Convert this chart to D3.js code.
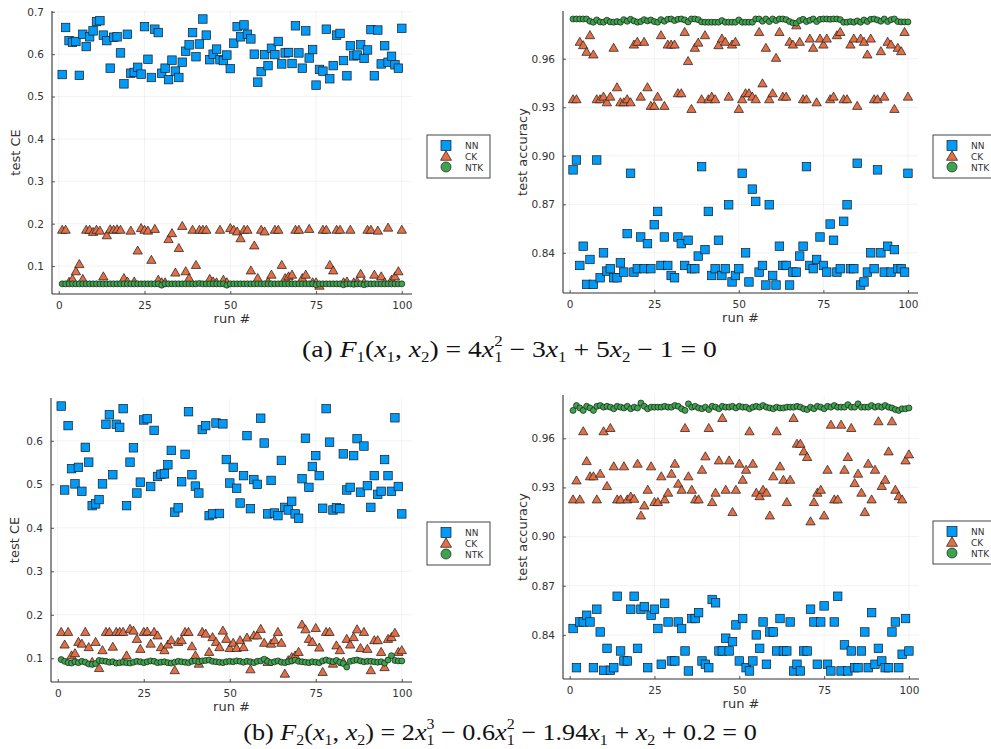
<!DOCTYPE html>
<html>
<head>
<meta charset="utf-8">
<script src="https://cdn.jsdelivr.net/npm/d3@7/dist/d3.min.js"></script>
<style>
  body { margin: 0; background: #fff; }
  svg { display: block; }
</style>
</head>
<body>
<svg id="chart" width="991" height="749"></svg>
<script>
// run numbers 1..100
var runs = d3.range(1, 101);
var seriesNames = ["NN", "CK", "NTK"];
var xTicks = [0, 25, 50, 75, 100];

// (a) test CE
var ceNN1 = [0.552,0.663,0.632,0.628,0.630,0.550,0.647,0.618,0.641,0.655,
  0.677,0.679,0.645,0.632,0.567,0.640,0.641,0.603,0.530,0.647,
  0.555,0.557,0.569,0.553,0.665,0.588,0.545,0.659,0.651,0.555,
  0.567,0.540,0.586,0.560,0.545,0.581,0.607,0.622,0.651,0.594,
  0.624,0.683,0.645,0.587,0.600,0.612,0.587,0.585,0.598,0.566,
  0.626,0.665,0.641,0.669,0.647,0.636,0.600,0.534,0.559,0.599,
  0.573,0.614,0.599,0.630,0.577,0.603,0.604,0.578,0.667,0.603,
  0.567,0.655,0.591,0.611,0.527,0.564,0.560,0.659,0.542,0.573,
  0.645,0.649,0.585,0.549,0.620,0.596,0.598,0.622,0.590,0.610,
  0.658,0.549,0.657,0.577,0.620,0.581,0.595,0.575,0.567,0.661];
var ceCK1 = [0.185,0.185,0.062,0.069,0.087,0.104,0.069,0.185,0.185,0.180,
  0.185,0.183,0.075,0.172,0.186,0.185,0.186,0.185,0.071,0.063,
  0.183,0.063,0.136,0.189,0.185,0.183,0.114,0.187,0.067,0.061,
  0.061,0.163,0.177,0.084,0.142,0.194,0.087,0.071,0.185,0.102,
  0.185,0.185,0.185,0.069,0.063,0.061,0.185,0.067,0.061,0.189,
  0.185,0.181,0.165,0.185,0.185,0.089,0.148,0.071,0.185,0.181,
  0.063,0.079,0.185,0.185,0.102,0.071,0.075,0.079,0.185,0.185,
  0.071,0.079,0.187,0.061,0.061,0.053,0.185,0.185,0.102,0.089,
  0.185,0.185,0.061,0.063,0.185,0.061,0.063,0.081,0.061,0.185,
  0.185,0.079,0.183,0.075,0.061,0.190,0.067,0.075,0.087,0.185];
var ceNTK1 = [0.058,0.058,0.058,0.058,0.058,0.058,0.058,0.058,0.058,0.058,
  0.058,0.058,0.058,0.058,0.058,0.058,0.058,0.058,0.058,0.058,
  0.058,0.058,0.058,0.058,0.058,0.058,0.058,0.058,0.058,0.055,
  0.058,0.058,0.058,0.058,0.058,0.058,0.058,0.058,0.058,0.058,
  0.059,0.058,0.058,0.058,0.058,0.058,0.058,0.058,0.055,0.058,
  0.058,0.058,0.058,0.058,0.058,0.058,0.058,0.058,0.058,0.058,
  0.058,0.058,0.058,0.058,0.058,0.058,0.058,0.058,0.058,0.058,
  0.058,0.058,0.058,0.058,0.056,0.058,0.058,0.058,0.058,0.058,
  0.058,0.058,0.056,0.058,0.058,0.057,0.058,0.058,0.056,0.058,
  0.058,0.058,0.058,0.058,0.058,0.058,0.058,0.058,0.058,0.058];

// (a) test accuracy
var accNN1 = [0.8913,0.8974,0.8322,0.8441,0.8205,0.8359,0.8205,0.8974,0.8246,0.8400,
  0.8287,0.8302,0.8246,0.8246,0.8338,0.8281,0.8519,0.8892,0.8281,0.8302,
  0.8498,0.8302,0.8457,0.8302,0.8574,0.8656,0.8322,0.8498,0.8322,0.8260,
  0.8246,0.8498,0.8457,0.8322,0.8478,0.8302,0.8302,0.8380,0.8933,0.8420,
  0.8656,0.8260,0.8302,0.8478,0.8260,0.8302,0.8697,0.8220,0.8260,0.8302,
  0.8892,0.8400,0.8220,0.8794,0.8718,0.8281,0.8322,0.8201,0.8697,0.8260,
  0.8201,0.8441,0.8322,0.8322,0.8201,0.8281,0.8281,0.8380,0.8441,0.8933,
  0.8322,0.8302,0.8359,0.8498,0.8322,0.8281,0.8578,0.8478,0.8281,0.8302,
  0.8595,0.8697,0.8302,0.8302,0.8954,0.8201,0.8220,0.8281,0.8400,0.8302,
  0.8913,0.8400,0.8281,0.8441,0.8281,0.8420,0.8302,0.8302,0.8281,0.8892];
var accCK1 = [0.9348,0.9348,0.9703,0.9682,0.9641,0.9744,0.9625,0.9348,0.9348,0.9364,
  0.9329,0.9364,0.9666,0.9422,0.9329,0.9329,0.9348,0.9329,0.9686,0.9703,
  0.9364,0.9703,0.9422,0.9307,0.9307,0.9364,0.9744,0.9307,0.9686,0.9686,
  0.9686,0.9385,0.9385,0.9764,0.9584,0.9288,0.9666,0.9698,0.9348,0.9744,
  0.9348,0.9364,0.9348,0.9682,0.9723,0.9703,0.9364,0.9686,0.9703,0.9288,
  0.9348,0.9385,0.9385,0.9364,0.9348,0.9764,0.9446,0.9666,0.9348,0.9385,
  0.9604,0.9764,0.9364,0.9364,0.9703,0.9686,0.9805,0.9703,0.9348,0.9348,
  0.9723,0.9666,0.9329,0.9723,0.9686,0.9723,0.9348,0.9364,0.9744,0.9764,
  0.9348,0.9348,0.9686,0.9723,0.9307,0.9723,0.9703,0.9625,0.9723,0.9348,
  0.9348,0.9645,0.9364,0.9703,0.9686,0.9288,0.9666,0.9645,0.9764,0.9364];
var accNTK1 = [0.9846,0.9846,0.9846,0.9846,0.9846,0.9832,0.9826,0.9840,0.9828,0.9826,
  0.9838,0.9828,0.9826,0.9830,0.9826,0.9842,0.9832,0.9844,0.9834,0.9826,
  0.9830,0.9842,0.9834,0.9840,0.9830,0.9826,0.9842,0.9832,0.9844,0.9846,
  0.9836,0.9844,0.9846,0.9840,0.9828,0.9846,0.9846,0.9842,0.9828,0.9826,
  0.9826,0.9826,0.9826,0.9826,0.9836,0.9826,0.9826,0.9826,0.9826,0.9840,
  0.9826,0.9826,0.9826,0.9826,0.9846,0.9846,0.9832,0.9846,0.9830,0.9846,
  0.9836,0.9846,0.9846,0.9842,0.9830,0.9822,0.9820,0.9836,0.9844,0.9830,
  0.9838,0.9846,0.9830,0.9844,0.9846,0.9846,0.9844,0.9846,0.9846,0.9842,
  0.9826,0.9826,0.9830,0.9826,0.9834,0.9826,0.9840,0.9830,0.9844,0.9846,
  0.9840,0.9832,0.9846,0.9830,0.9842,0.9846,0.9830,0.9828,0.9828,0.9828];

// (b) test CE
var ceNN2 = [0.680,0.487,0.635,0.536,0.501,0.539,0.484,0.585,0.551,0.451,
  0.455,0.465,0.501,0.638,0.660,0.522,0.638,0.631,0.674,0.451,
  0.551,0.584,0.480,0.505,0.648,0.651,0.495,0.624,0.518,0.523,
  0.524,0.545,0.578,0.436,0.446,0.506,0.569,0.667,0.522,0.496,
  0.480,0.626,0.635,0.428,0.432,0.641,0.433,0.639,0.557,0.503,
  0.539,0.491,0.457,0.520,0.612,0.444,0.511,0.500,0.652,0.595,
  0.432,0.509,0.434,0.428,0.555,0.447,0.441,0.461,0.432,0.422,
  0.513,0.606,0.493,0.541,0.566,0.520,0.445,0.674,0.597,0.441,
  0.446,0.444,0.570,0.487,0.493,0.566,0.605,0.482,0.588,0.497,
  0.447,0.520,0.477,0.484,0.557,0.520,0.484,0.653,0.495,0.432];
var ceCK2 = [0.160,0.131,0.160,0.106,0.111,0.137,0.133,0.160,0.125,0.091,
  0.137,0.077,0.118,0.160,0.160,0.126,0.160,0.160,0.160,0.106,
  0.167,0.163,0.144,0.121,0.160,0.161,0.133,0.160,0.152,0.125,
  0.118,0.131,0.141,0.072,0.137,0.141,0.160,0.160,0.127,0.106,
  0.087,0.160,0.156,0.114,0.148,0.137,0.125,0.163,0.144,0.123,
  0.135,0.123,0.141,0.125,0.147,0.074,0.152,0.152,0.167,0.135,
  0.091,0.133,0.141,0.160,0.135,0.064,0.095,0.102,0.106,0.114,
  0.177,0.166,0.144,0.137,0.169,0.124,0.068,0.160,0.160,0.087,
  0.129,0.118,0.091,0.144,0.131,0.148,0.166,0.123,0.160,0.121,
  0.072,0.141,0.141,0.114,0.079,0.144,0.148,0.158,0.114,0.118];
var ceNTK2 = [0.097,0.093,0.090,0.089,0.092,0.090,0.093,0.091,0.087,0.086,
  0.088,0.095,0.094,0.093,0.091,0.092,0.089,0.090,0.091,0.090,
  0.089,0.091,0.093,0.092,0.090,0.092,0.094,0.093,0.090,0.091,
  0.092,0.090,0.089,0.091,0.093,0.092,0.091,0.090,0.093,0.094,
  0.092,0.094,0.095,0.096,0.093,0.092,0.091,0.090,0.092,0.093,
  0.092,0.094,0.093,0.091,0.093,0.092,0.090,0.093,0.094,0.098,
  0.093,0.090,0.092,0.094,0.091,0.090,0.092,0.094,0.096,0.093,
  0.092,0.091,0.090,0.092,0.091,0.090,0.094,0.096,0.094,0.092,
  0.095,0.091,0.088,0.080,0.093,0.095,0.096,0.094,0.092,0.093,
  0.093,0.092,0.091,0.092,0.089,0.096,0.106,0.095,0.094,0.094];

// (b) test accuracy
var accNN2 = [0.8439,0.8200,0.8479,0.8479,0.8520,0.8479,0.8200,0.8557,0.8418,0.8184,
  0.8318,0.8184,0.8200,0.8636,0.8302,0.8241,0.8241,0.8557,0.8636,0.8318,
  0.8557,0.8573,0.8200,0.8520,0.8557,0.8439,0.8221,0.8593,0.8479,0.8241,
  0.8241,0.8479,0.8439,0.8302,0.8180,0.8500,0.8500,0.8536,0.8241,0.8221,
  0.8200,0.8616,0.8596,0.8302,0.8302,0.8380,0.8302,0.8359,0.8461,0.8241,
  0.8500,0.8200,0.8180,0.8241,0.8400,0.8318,0.8479,0.8221,0.8418,0.8418,
  0.8302,0.8500,0.8302,0.8302,0.8479,0.8180,0.8221,0.8180,0.8302,0.8302,
  0.8557,0.8479,0.8221,0.8479,0.8577,0.8221,0.8180,0.8479,0.8636,0.8180,
  0.8339,0.8180,0.8302,0.8200,0.8200,0.8302,0.8418,0.8200,0.8536,0.8221,
  0.8318,0.8241,0.8200,0.8200,0.8418,0.8479,0.8200,0.8282,0.8500,0.8302];
var accCK2 = [0.9225,0.9341,0.9225,0.9641,0.9459,0.9366,0.9366,0.9225,0.9382,0.9641,
  0.9307,0.9661,0.9427,0.9225,0.9225,0.9427,0.9225,0.9243,0.9229,0.9443,
  0.9127,0.9188,0.9284,0.9427,0.9209,0.9209,0.9366,0.9225,0.9266,0.9382,
  0.9443,0.9321,0.9284,0.9661,0.9366,0.9284,0.9225,0.9225,0.9406,0.9488,
  0.9661,0.9209,0.9266,0.9463,0.9722,0.9284,0.9463,0.9148,0.9284,0.9443,
  0.9345,0.9406,0.9641,0.9443,0.9266,0.9245,0.9284,0.9266,0.9127,0.9366,
  0.9641,0.9427,0.9345,0.9209,0.9345,0.9722,0.9565,0.9565,0.9518,0.9484,
  0.9091,0.9209,0.9266,0.9284,0.9127,0.9406,0.9681,0.9225,0.9225,0.9681,
  0.9406,0.9484,0.9661,0.9325,0.9382,0.9266,0.9148,0.9443,0.9225,0.9406,
  0.9702,0.9307,0.9345,0.9518,0.9702,0.9284,0.9245,0.9225,0.9463,0.9500];
var accNTK2 = [0.9770,0.9800,0.9785,0.9770,0.9795,0.9785,0.9770,0.9795,0.9800,0.9790,
  0.9795,0.9790,0.9780,0.9795,0.9790,0.9785,0.9795,0.9780,0.9790,0.9785,
  0.9815,0.9795,0.9780,0.9790,0.9790,0.9790,0.9790,0.9795,0.9790,0.9790,
  0.9800,0.9795,0.9780,0.9770,0.9810,0.9790,0.9795,0.9785,0.9780,0.9790,
  0.9775,0.9795,0.9790,0.9780,0.9795,0.9790,0.9790,0.9795,0.9785,0.9795,
  0.9790,0.9790,0.9780,0.9790,0.9795,0.9790,0.9800,0.9790,0.9785,0.9780,
  0.9790,0.9785,0.9785,0.9790,0.9790,0.9790,0.9795,0.9790,0.9780,0.9775,
  0.9790,0.9780,0.9795,0.9790,0.9780,0.9795,0.9790,0.9800,0.9790,0.9790,
  0.9790,0.9805,0.9790,0.9790,0.9810,0.9790,0.9790,0.9790,0.9800,0.9790,
  0.9795,0.9790,0.9800,0.9790,0.9785,0.9775,0.9770,0.9780,0.9780,0.9785];

var ceTicks = [0.1, 0.2, 0.3, 0.4, 0.5, 0.6, 0.7];
var accTicks = [0.84, 0.87, 0.90, 0.93, 0.96];

var COLORS = { NN: "#009af9", CK: "#e26f46", NTK: "#3da44d" };
var FONT = "DejaVu Sans, Liberation Sans, sans-serif";

var svg = d3.select("#chart");

// plot boxes: [left, top, right, bottom]
var panels = [
  { box: [52, 11, 412, 294], ylabel: "test CE", ticks: ceTicks, fmt: ".1f",
    data: [ceNN1, ceCK1, ceNTK1], legend: [427, 135] },
  { box: [563, 11, 918, 293], ylabel: "test accuracy", ticks: accTicks, fmt: ".2f",
    data: [accNN1, accCK1, accNTK1], legend: [933, 135] },
  { box: [51, 398, 412, 682], ylabel: "test CE", ticks: ceTicks, fmt: ".1f",
    data: [ceNN2, ceCK2, ceNTK2], legend: [427, 522] },
  { box: [563, 395, 919, 679], ylabel: "test accuracy", ticks: accTicks, fmt: ".2f",
    data: [accNN2, accCK2, accNTK2], legend: [933, 521] }
];

function drawMarker(g, kind, size) {
  var m;
  if (kind === "NN") {
    m = g.append("rect").attr("x", -size / 2).attr("y", -size / 2)
      .attr("width", size).attr("height", size);
  } else if (kind === "CK") {
    var h = size * 0.95, w = size * 1.1;
    m = g.append("path")
      .attr("d", "M0," + (-h * 0.6) + "L" + (w / 2) + "," + (h * 0.4) + "L" + (-w / 2) + "," + (h * 0.4) + "Z");
  } else {
    m = g.append("circle").attr("r", size / 2);
  }
  m.attr("fill", COLORS[kind]).attr("stroke", "#1a1a1a").attr("stroke-width", 0.7);
  return m;
}

function drawPanel(p) {
  var L = p.box[0], T = p.box[1], R = p.box[2], B = p.box[3];
  var all = p.data[0].concat(p.data[1], p.data[2]);
  var lo = d3.min(all), hi = d3.max(all), pad = (hi - lo) * 0.03;
  var x = d3.scaleLinear().domain([1 - 99 * 0.03, 100 + 99 * 0.03]).range([L, R]);
  var y = d3.scaleLinear().domain([lo - pad, hi + pad]).range([B, T]);
  var ticksIn = p.ticks.filter(function(t) { return t >= lo - pad && t <= hi + pad; });

  var g = svg.append("g");
  // grid
  g.append("g").selectAll("line").data(xTicks).enter().append("line")
    .attr("x1", function(d) { return x(d); }).attr("x2", function(d) { return x(d); })
    .attr("y1", T).attr("y2", B)
    .attr("stroke", "#000").attr("stroke-opacity", 0.09).attr("stroke-width", 0.6);
  g.append("g").selectAll("line").data(ticksIn).enter().append("line")
    .attr("x1", L).attr("x2", R)
    .attr("y1", function(d) { return y(d); }).attr("y2", function(d) { return y(d); })
    .attr("stroke", "#000").attr("stroke-opacity", 0.09).attr("stroke-width", 0.6);

  // axes
  var xa = g.append("g").attr("transform", "translate(0," + B + ")")
    .call(d3.axisBottom(x).tickValues(xTicks).tickSize(-3).tickPadding(8).tickFormat(d3.format("d")));
  var ya = g.append("g").attr("transform", "translate(" + L + ",0)")
    .call(d3.axisLeft(y).tickValues(ticksIn).tickSize(-3).tickPadding(8).tickFormat(d3.format(p.fmt)));
  [xa, ya].forEach(function(a) {
    a.select(".domain").attr("stroke", "#333").attr("stroke-width", 1.1);
    a.selectAll(".tick line").attr("stroke", "#333").attr("stroke-width", 0.8);
    a.selectAll("text").attr("font-family", FONT).attr("font-size", 10.5).attr("fill", "#333");
  });
  xa.select(".domain").attr("d", "M" + L + ",0H" + R);
  ya.select(".domain").attr("d", "M0," + B + "V" + T);

  // labels
  g.append("text").attr("x", (L + R) / 2).attr("y", B + 29)
    .attr("text-anchor", "middle").attr("font-family", FONT).attr("font-size", 13)
    .attr("fill", "#333").text("run #");
  var lx = p.ylabel === "test CE" ? L - 32 : L - 36;
  g.append("text").attr("transform", "translate(" + (lx) + "," + ((T + B) / 2) + ") rotate(-90)")
    .attr("text-anchor", "middle").attr("font-family", FONT).attr("font-size", 13)
    .attr("fill", "#333").text(p.ylabel);

  // points
  var sizes = { NN: 8.5, CK: 8.5, NTK: 6 };
  seriesNames.forEach(function(name, si) {
    var vals = p.data[si];
    runs.forEach(function(r, i) {
      var mg = g.append("g").attr("transform", "translate(" + x(r) + "," + y(vals[i]) + ")");
      drawMarker(mg, name, sizes[name]);
    });
  });

  // legend
  var lg = svg.append("g").attr("transform", "translate(" + p.legend[0] + "," + p.legend[1] + ")");
  lg.append("rect").attr("width", 63).attr("height", 43)
    .attr("fill", "#fff").attr("stroke", "#444").attr("stroke-width", 1);
  var rowY = [10.5, 21.5, 32];
  seriesNames.forEach(function(name, si) {
    var mg = lg.append("g").attr("transform", "translate(19," + rowY[si] + ")");
    drawMarker(mg, name, 10);
    lg.append("text").attr("x", 38).attr("y", rowY[si] + 3.5)
      .attr("font-family", FONT).attr("font-size", 9).attr("fill", "#333").text(name);
  });
}

panels.forEach(drawPanel);

// captions with math, stretched to the reference width
function caption(cx, cy, width, parts) {
  var t = svg.append("text").attr("x", cx).attr("y", cy).attr("text-anchor", "middle")
    .attr("font-family", "Liberation Serif, DejaVu Serif, serif").attr("font-size", 23)
    .attr("fill", "#111");
  var off = 0;
  parts.forEach(function(p) {
    var kind = p[1];
    var target = kind === "sub" ? 5.5 : (kind === "ssup") ? -10.5 : 0;
    var ts = t.append("tspan").attr("dy", target - off).text(p[0]);
    if (kind === "i") ts.attr("font-style", "italic");
    if (kind === "sub" || kind === "ssup") ts.attr("font-size", 14);
    if (kind === "ssup") ts.attr("dx", -7);
    off = target;
  });
  if (off !== 0) t.append("tspan").attr("dy", -off).text("");
  var w = t.node().getBBox().width;
  var s = width / w;
  t.attr("transform", "translate(" + cx + ",0) scale(" + s + ",1) translate(" + (-cx) + ",0)");
}

var sp = "\u2005";
caption(509.5, 357, 415, [
  ["(a) ", "n"], ["F", "i"], ["1", "sub"], ["(", "n"], ["x", "i"], ["1", "sub"], [", ", "n"],
  ["x", "i"], ["2", "sub"], [")" + sp + "=" + sp + "4", "n"], ["x", "i"], ["1", "sub"], ["2", "ssup"],
  [sp + "\u2212" + sp + "3", "n"], ["x", "i"], ["1", "sub"], [sp + "+" + sp + "5", "n"], ["x", "i"], ["2", "sub"],
  [sp + "\u2212" + sp + "1" + sp + "=" + sp + "0", "n"]
]);
caption(500, 740, 514, [
  ["(b) ", "n"], ["F", "i"], ["2", "sub"], ["(", "n"], ["x", "i"], ["1", "sub"], [", ", "n"],
  ["x", "i"], ["2", "sub"], [")" + sp + "=" + sp + "2", "n"], ["x", "i"], ["1", "sub"], ["3", "ssup"],
  [sp + "\u2212" + sp + "0.6", "n"], ["x", "i"], ["1", "sub"], ["2", "ssup"], [sp + "\u2212" + sp + "1.94", "n"],
  ["x", "i"], ["1", "sub"], [sp + "+" + sp, "n"], ["x", "i"], ["2", "sub"], [sp + "+" + sp + "0.2" + sp + "=" + sp + "0", "n"]
]);
</script>
</body>
</html>
